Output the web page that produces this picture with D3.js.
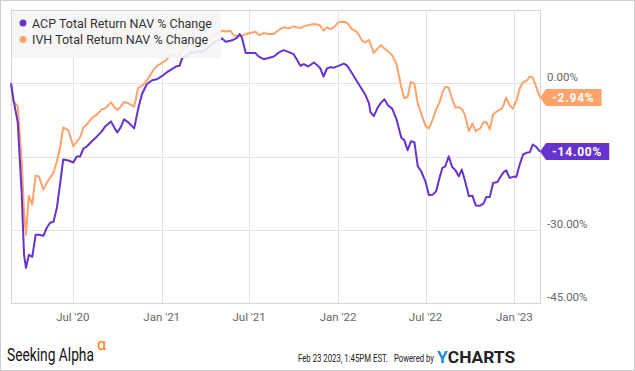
<!DOCTYPE html>
<html>
<head>
<meta charset="utf-8">
<script src="https://cdn.jsdelivr.net/npm/d3@7"></script>
<style>
  html, body { margin: 0; padding: 0; background: #fff; }
  svg { display: block; font-family: Roboto, "Noto Sans", sans-serif; }
</style>
</head>
<body>
<div id="chart"></div>
<script>
/** Data */
const dates = [
  "2020-02-24","2020-02-29","2020-03-09","2020-03-17","2020-03-22","2020-03-26","2020-04-01","2020-04-08",
  "2020-04-15","2020-04-22","2020-05-01","2020-05-08","2020-05-15","2020-05-22","2020-05-29","2020-06-05",
  "2020-06-11","2020-06-22","2020-07-02","2020-07-09","2020-07-16","2020-07-23","2020-07-30","2020-08-09",
  "2020-08-20","2020-08-30","2020-09-06","2020-09-18","2020-09-27","2020-10-01","2020-10-08","2020-10-15",
  "2020-10-24","2020-11-05","2020-11-13","2020-11-21","2020-12-01","2020-12-12","2020-12-22","2021-01-01",
  "2021-01-12","2021-01-22","2021-02-01","2021-02-07","2021-02-12","2021-02-24","2021-03-06","2021-03-11",
  "2021-03-18","2021-03-25","2021-04-05","2021-04-15","2021-04-24","2021-05-02","2021-05-06","2021-05-13",
  "2021-05-23","2021-05-30","2021-06-06","2021-06-11","2021-06-16","2021-06-24","2021-07-03","2021-07-14",
  "2021-07-21","2021-07-31","2021-08-10","2021-08-21","2021-08-31","2021-09-10","2021-09-21","2021-10-01",
  "2021-10-08","2021-10-15","2021-10-22","2021-10-31","2021-11-12","2021-11-19","2021-11-25","2021-12-02",
  "2021-12-09","2021-12-16","2021-12-23","2022-01-02","2022-01-13","2022-01-20","2022-01-30","2022-02-09",
  "2022-02-20","2022-02-27","2022-03-06","2022-03-09","2022-03-16","2022-03-24","2022-03-31","2022-04-07",
  "2022-04-14","2022-04-23","2022-05-02","2022-05-12","2022-05-18","2022-05-25","2022-06-01","2022-06-08",
  "2022-06-15","2022-06-22","2022-07-01","2022-07-08","2022-07-16","2022-07-23","2022-07-30","2022-08-05",
  "2022-08-11","2022-08-18","2022-08-25","2022-09-01","2022-09-08","2022-09-14","2022-09-20","2022-09-29",
  "2022-10-06","2022-10-13","2022-10-22","2022-10-29","2022-11-04","2022-11-11","2022-11-18","2022-11-27",
  "2022-12-06","2022-12-10","2022-12-15","2022-12-22","2022-12-29","2023-01-05","2023-01-12","2023-01-19",
  "2023-01-26","2023-02-02","2023-02-08","2023-02-15","2023-02-23"
];

const acp = [
  0, -3.29, -8.01, -22.40, -35.14, -37.81, -35.14, -35.55,
  -31.03, -31.03, -31.24, -29.59, -28.56, -28.36, -25.48, -20.34,
  -15.62, -15.82, -16.23, -15.00, -15.00, -13.36, -12.95, -11.92,
  -10.89, -9.86, -8.84, -7.81, -9.45, -10.07, -9.04, -7.40,
  -8.01, -9.25, -5.34, -2.26, -0.21, 0.62, 0.82, 1.44,
  2.26, 2.88, 3.49, 3.56, 5.14, 5.86, 6.43, 6.31,
  6.58, 6.43, 7.13, 8.01, 8.69, 8.90, 9.19, 8.49,
  8.69, 8.94, 9.35, 10.07, 9.39, 6.17, 6.17, 6.17,
  5.45, 4.93, 5.18, 5.49, 6.27, 6.78, 6.37, 5.96,
  4.79, 3.56, 3.90, 3.43, 4.25, 3.70, 3.08, 1.38,
  3.02, 3.29, 3.19, 3.56, 4.01, 3.60, 2.06, 0.41,
  -1.34, -2.47, -4.11, -5.90, -6.72, -4.99, -3.97, -3.29,
  -4.52, -5.20, -7.40, -11.16, -11.65, -13.71, -11.86, -12.06,
  -17.00, -18.02, -20.14, -22.91, -22.81, -22.13, -19.38, -17.32,
  -17.00, -14.94, -17.12, -17.82, -19.05, -17.67, -19.73, -23.16,
  -23.02, -25.01, -25.07, -24.66, -23.28, -23.28, -20.41, -20.24,
  -18.70, -18.19, -17.82, -19.38, -19.17, -19.17, -16.65, -14.59,
  -14.24, -14.12, -12.54, -13.01, -14.00
];

const ivh = [
  0, -3.70, -4.73, -15.62, -26.30, -31.03, -23.02, -24.87,
  -18.91, -19.11, -21.78, -20.34, -19.32, -18.29, -16.03, -12.95,
  -9.04, -9.66, -12.95, -11.92, -11.10, -9.04, -8.43, -7.19,
  -6.37, -5.34, -5.14, -3.90, -5.14, -5.49, -4.79, -3.84,
  -4.11, -4.79, -1.03, -0.51, 0.51, 2.32, 3.56, 4.11,
  4.93, 5.96, 5.49, 5.61, 6.99, 7.54, 8.01, 8.12,
  8.36, 8.49, 9.04, 9.51, 10.07, 10.54, 10.75, 10.58,
  10.75, 9.86, 9.60, 9.66, 9.76, 10.07, 10.28, 10.54,
  9.86, 10.28, 10.07, 10.07, 10.95, 11.45, 11.24, 11.65,
  11.41, 11.30, 11.65, 11.88, 12.12, 12.02, 11.78, 10.75,
  11.45, 11.10, 11.45, 12.47, 12.60, 12.33, 11.10, 10.54,
  8.69, 8.36, 8.90, 8.01, 6.17, 7.13, 7.81, 7.09,
  6.58, 5.75, 3.90, -0.82, -3.08, -2.77, 0.31, -0.10,
  -4.11, -6.17, -8.73, -9.25, -7.40, -5.34, -3.97, -1.91,
  -0.72, -0.92, -3.19, -4.99, -4.93, -5.24, -6.37, -9.80,
  -8.22, -9.80, -9.25, -8.01, -7.95, -9.45, -6.37, -5.69,
  -5.20, -4.32, -2.94, -4.52, -5.20, -3.64, -1.09, 0.27,
  0.47, 1.38, 1.17, -0.68, -2.94
];

const seriesNames = ["ACP Total Return NAV % Change", "IVH Total Return NAV % Change"];
const seriesColors = ["#6633cc", "#ffa36b"];
const gridTicks = [0, -15, -30, -45];
// -15.00% sits under the ACP end tag, so it is not shown
const yLabels = [0, -30, -45];
const xTicks = ["2020-07-01", "2021-01-01", "2021-07-01", "2022-01-01", "2022-07-01", "2023-01-01"];

/** Graph configs */
const W = 635, H = 371;
const plot = { left: 11, right: 540, top: 10, bottom: 303 };
const parse = d3.utcParse("%Y-%m-%d");

const svg = d3.select("#chart").append("svg").attr("width", W).attr("height", H);

// outer frame
svg.append("rect")
  .attr("x", 0.5).attr("y", 0.5)
  .attr("width", W - 1).attr("height", H - 1)
  .attr("fill", "#fff").attr("stroke", "#cfcfcf");

const x = d3.scaleUtc()
  .domain([parse("2020-02-24"), parse("2023-02-23")])
  .range([plot.left, plot.right]);
const y = d3.scaleLinear().domain([-45, 15]).range([plot.bottom, plot.top]);

// grid
svg.append("g")
  .selectAll("line")
  .data(gridTicks)
  .join("line")
  .attr("x1", plot.left).attr("x2", plot.right)
  .attr("y1", (d) => Math.round(y(d)) + 0.5).attr("y2", (d) => Math.round(y(d)) + 0.5)
  .attr("stroke", "#e3e3e3");

svg.append("g")
  .selectAll("line")
  .data(xTicks)
  .join("line")
  .attr("x1", (d) => Math.round(x(parse(d))) + 0.5).attr("x2", (d) => Math.round(x(parse(d))) + 0.5)
  .attr("y1", plot.top).attr("y2", plot.bottom)
  .attr("stroke", "#e3e3e3");

// plot border
svg.append("rect")
  .attr("x", plot.left + 0.5).attr("y", plot.top + 0.5)
  .attr("width", plot.right - plot.left).attr("height", plot.bottom - plot.top)
  .attr("fill", "none").attr("stroke", "#d6d6d6");

// y labels
svg.append("g")
  .selectAll("text")
  .data(yLabels)
  .join("text")
  .attr("x", 547)
  .attr("y", (d) => y(d) - 2)
  .attr("font-size", 11.5)
  .attr("fill", "#666")
  .text((d) => d3.format(".2f")(d).replace("−", "-") + "%");

// x labels
svg.append("g")
  .selectAll("text")
  .data(xTicks)
  .join("text")
  .attr("x", (d) => x(parse(d)))
  .attr("y", 321)
  .attr("text-anchor", "middle")
  .attr("font-size", 11.5)
  .attr("fill", "#666")
  .text((d) => d3.utcFormat("%b '%y")(parse(d)));

// lines
const line = d3.line()
  .x((d) => x(d.date))
  .y((d) => y(d.value));

const series = [acp, ivh].map((vals, i) => ({
  name: seriesNames[i],
  color: seriesColors[i],
  values: dates.map((d, j) => ({ date: parse(d), value: vals[j] })),
}));

// IVH drawn first so ACP sits on top in the overlaps
[series[1], series[0]].forEach((s) => {
  svg.append("path")
    .datum(s.values)
    .attr("d", line)
    .attr("fill", "none")
    .attr("stroke", s.color)
    .attr("stroke-width", 2)
    .attr("stroke-linejoin", "round");
});

// legend
svg.append("rect")
  .attr("x", plot.left + 1).attr("y", plot.top + 1)
  .attr("width", 209).attr("height", 47)
  .attr("fill", "#f5f5f5").attr("opacity", 0.9);

series.forEach((s, i) => {
  const ly = 23 + i * 16.5;
  svg.append("circle").attr("cx", 23).attr("cy", ly).attr("r", 3.5).attr("fill", s.color);
  svg.append("text")
    .attr("x", 32).attr("y", ly + 4.5)
    .attr("font-size", 12.5).attr("fill", "#333")
    .text(s.name);
});

// end-value tags
series.forEach((s) => {
  const last = s.values[s.values.length - 1];
  const ty = y(last.value);
  const label = d3.format(".2f")(last.value).replace("−", "-") + "%";
  const g = svg.append("g");
  const txt = g.append("text")
    .attr("x", 552).attr("y", ty + 4.5)
    .attr("font-size", 12).attr("font-weight", "bold")
    .attr("letter-spacing", 0.8)
    .attr("fill", "#fff")
    .text(label);
  const w = txt.node().getComputedTextLength() + 13;
  g.insert("path", "text")
    .attr("d", `M540,${ty} L546,${ty - 8.5} L${546 + w},${ty - 8.5} L${546 + w},${ty + 8.5} L546,${ty + 8.5} Z`)
    .attr("fill", s.color);
});

/** footer: condensed text, squeezed to the reference widths with a scale */
const squeeze = (tx, ty, width, size, fill, weight, str) => {
  const g = svg.append("g");
  const t = g.append("text")
    .attr("font-size", size).attr("font-weight", weight).attr("fill", fill)
    .text(str);
  const natural = t.node().getComputedTextLength();
  g.attr("transform", `translate(${tx},${ty}) scale(${width / natural},1)`);
  return t;
};

squeeze(7, 361, 87, 19, "#111", "normal", "Seeking Alpha");
svg.append("text")
  .attr("x", 97).attr("y", 350)
  .attr("font-size", 16).attr("fill", "#ff7a00")
  .text("α");

squeeze(298, 362, 90, 11.5, "#222", "normal", "Feb 23 2023, 1:45PM EST.");
squeeze(394, 362, 40, 11.5, "#222", "normal", "Powered by");

const logo = squeeze(437, 363, 78, 17, null, "bold", "");
logo.append("tspan").attr("fill", "#1a8fe0").text("Y");
logo.append("tspan").attr("fill", "#222").text("CHARTS");
const nat = logo.node().getComputedTextLength();
d3.select(logo.node().parentNode).attr("transform", `translate(437,363) scale(${78 / nat},1)`);
</script>
</body>
</html>
